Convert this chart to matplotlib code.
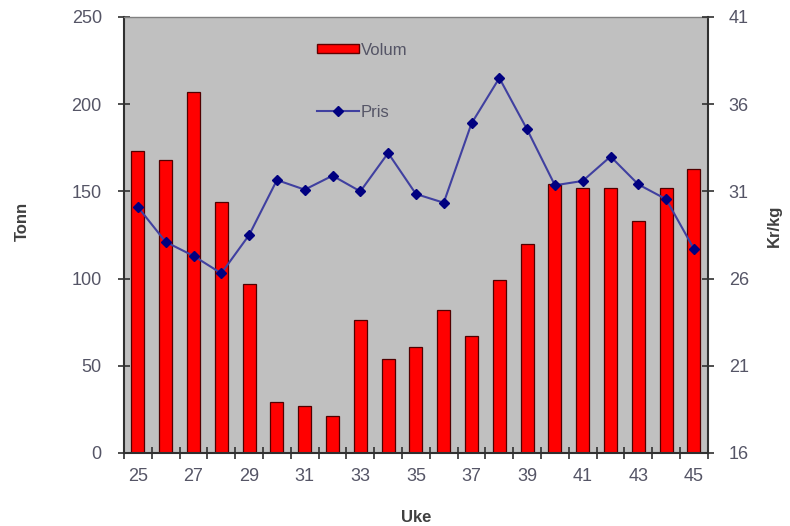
import matplotlib
matplotlib.use("Agg")
import matplotlib.pyplot as plt
from matplotlib.lines import Line2D
from matplotlib.patches import Patch

plt.rcParams['font.family'] = ['Liberation Sans', 'DejaVu Sans']

weeks = list(range(25, 46))
volum = [173, 168, 207, 144, 97, 29, 27, 21, 76, 54, 61, 82, 67, 99, 120,
         154, 152, 152, 133, 152, 163]
pris = [30.1, 28.1, 27.3, 26.3, 28.5, 31.65, 31.1, 31.9, 31.0, 33.2, 30.85,
        30.35, 34.9, 37.5, 34.55, 31.35, 31.6, 33.0, 31.4, 30.55, 27.7]
left_ticks = [0, 50, 100, 150, 200, 250]
right_ticks = [16, 21, 26, 31, 36, 41]
xtick_labels = [str(w) for w in weeks[::2]]

text_col = '#555566'

fig = plt.figure(figsize=(7.9, 5.26), dpi=100)
ax = fig.add_axes([0.157, 0.1388, 0.739, 0.8289])
ax.set_facecolor('#c0c0c0')

x = list(range(len(weeks)))
ax.bar(x, volum, width=0.47, color='#ff0000', edgecolor='#500000', linewidth=0.9, zorder=2)
ax.set_xlim(-0.5, len(weeks) - 0.5)
ax.set_ylim(0, 250)
ax.set_yticks(left_ticks)
ax.set_xticks([i - 0.5 for i in range(len(weeks) + 1)], minor=False)
ax.set_xticklabels([])
ax.set_xticks(x[::2], minor=True)
ax.set_xticklabels(xtick_labels, minor=True)
ax.tick_params(axis='x', which='major', direction='inout', length=8, width=1.2, color='#303030')
ax.tick_params(axis='x', which='minor', length=0, pad=11, labelsize=13, labelcolor=text_col)
ax.tick_params(axis='y', direction='inout', length=8, width=1.2, color='#303030',
               labelsize=13, labelcolor=text_col, pad=12)

for s in ['left', 'bottom', 'right']:
    ax.spines[s].set_color('#303030')
    ax.spines[s].set_linewidth(1.5)
ax.spines['top'].set_color('#808080')
ax.spines['top'].set_linewidth(1.0)

ax2 = ax.twinx()
ax2.plot(x, pris, color='#4040a0', linewidth=1.5, marker='D', markersize=5,
         markerfacecolor='#000080', markeredgecolor='#000080', zorder=3)
ax2.set_ylim(16, 41)
ax2.set_yticks(right_ticks)
ax2.tick_params(axis='y', direction='inout', length=8, width=1.2, color='#303030',
                labelsize=13, labelcolor=text_col, pad=11)
for s in ax2.spines.values():
    s.set_visible(False)

ax.set_ylabel('Tonn', fontsize=12, fontweight='bold', color='#404040', labelpad=30, y=0.53)
ax2.set_ylabel('Kr/kg', fontsize=12, fontweight='bold', color='#404040', labelpad=13, y=0.52)
ax.set_xlabel('Uke', fontsize=12, fontweight='bold', color='#404040', labelpad=18)

handles = [Patch(facecolor='#ff0000', edgecolor='#600000', label='Volum'),
           Line2D([], [], color='#4040a0', marker='D', markersize=5,
                  markerfacecolor='#000080', markeredgecolor='#000080', label='Pris')]
ax2.legend(handles=handles, loc='upper left', bbox_to_anchor=(0.305, 0.975), frameon=False,
           fontsize=12, labelspacing=2.8, handlelength=2.5, handleheight=0.45,
           handletextpad=0.1, labelcolor=text_col)

fig.savefig('out.png', dpi=100)
